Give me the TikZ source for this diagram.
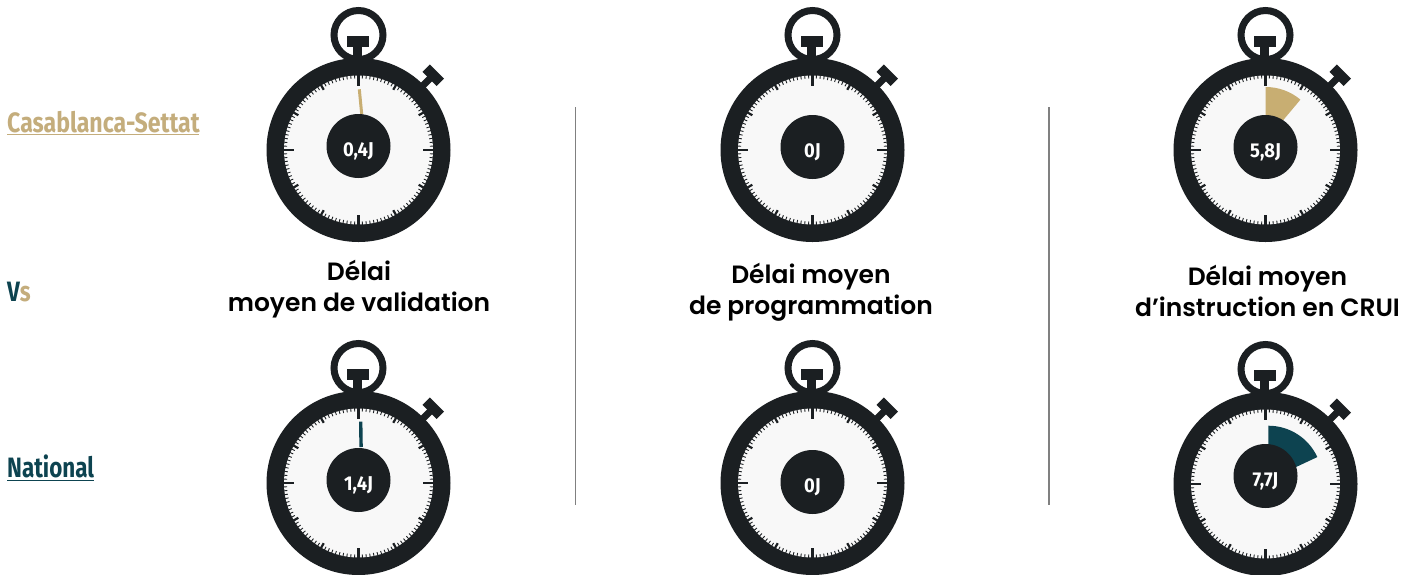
\documentclass[tikz,border=0pt]{standalone}
\usepackage{fontspec}
\setmainfont{Poppins}[UprightFont=* Medium,BoldFont=* SemiBold]
\newfontfamily\condfont[FakeStretch=0.80]{Fira Sans}
\newfontfamily\widecondfont[FakeStretch=0.825]{Fira Sans}
\newfontfamily\hubfont[FakeStretch=0.92]{Fira Sans}
\definecolor{ink}{HTML}{1B1F22}
\definecolor{face}{HTML}{F8F8F8}
\definecolor{sand}{HTML}{C8AE72}
\definecolor{sandtext}{HTML}{C4AD7C}
\definecolor{teal}{HTML}{0D4350}
\definecolor{rule}{HTML}{808080}
\tikzset{x=1pt,y=-1pt,
 hubtext/.style={text=white,font=\hubfont\bfseries\fontsize{20}{20}\selectfont,inner sep=0pt},
 title/.style={text=black,font=\bfseries\fontsize{25}{31}\selectfont,align=center,inner sep=0pt},
 side/.style={font=\condfont\bfseries\fontsize{28}{28}\selectfont,inner sep=0pt,anchor=base west},
 sep/.style={draw=rule,line width=1.2pt}}
\newcommand{\watch}[5]{%
 \begin{scope}[shift={(#1,#2)}]
  \fill[ink] (0,0) circle (92);
  \draw[ink,line width=7pt] (0,-115) circle (24.5);
  \fill[ink] (-5.5,-105) rectangle (3.5,-88);
  \fill[ink] (-11.5,-114) rectangle (10.5,-103);
  \begin{scope}[rotate=-45]
   \fill[ink] (-3.5,-102) rectangle (3.5,-88);
   \fill[ink] (-10,-111) rectangle (10,-100.5);
  \end{scope}
  \fill[face] (0,0) circle (74.5);
  \foreach \a in {0,3,...,357}{
   \draw[ink,line width=.9pt] (\a:75) -- (\a:71.5);}
  \foreach \a in {0,30,...,330}{
   \draw[ink,line width=2.2pt] (\a:75) -- (\a:69.5);}
  \foreach \a in {0,90,180,270}{
   \draw[ink,line width=2.6pt] (\a:75) -- (\a:64.5);}
  #5
  \node[circle,fill=ink,minimum size=64pt,inner sep=0pt] (hub) at (0,#3) {};
  \node[hubtext] at (0,#3+5) {#4};
 \end{scope}}
\begin{document}
\begin{tikzpicture}
\useasboundingbox (0,0) rectangle (1422,574);
\fill[white] (0,0) rectangle (1422,574);
\watch{358.5}{150}{-4}{0,4J}{\draw[sand,line width=3pt] (.8,-60.7) -- (3.2,-36);}
\watch{812.5}{150}{-3}{0J}{}
\watch{1265.5}{150}{-3}{5,8J}{\fill[sand] (0.2,-63) arc[start angle=-90,end angle=-50,radius=54] -- (0.2,-9) -- cycle;}
\watch{358.5}{483}{-3}{1,4J}{\draw[teal,line width=3.4pt] (2.2,-61.3) -- (2.6,-36);}
\watch{812.5}{483}{-1}{0J}{}
\watch{1265.5}{484}{-8}{7,7J}{\fill[teal] (2.8,-58.3) arc[start angle=-90,end angle=-24.8,radius=54] -- (2.8,-4) -- cycle;}
\node[title] (t1) at (359,289) {Délai\\moyen de validation};
\node[title] (t2) at (811,292.5) {Délai moyen\\de programmation};
\node[title] (t3) at (1267.5,291) {Délai moyen\\d’instruction en CRUI};
\draw[sep] (575.5,107) -- (575.5,505);
\draw[sep] (1049,107) -- (1049,505);
\node[side,text=sandtext,font=\widecondfont\bfseries\fontsize{28}{28}\selectfont] (a) at (7,132) {Casablanca-Settat};
\draw[sandtext,line width=1.2pt] (7,134.8) -- (199,134.8);
\node[side] (b) at (7,301) {\textcolor{teal}{V}\textcolor{sandtext}{s}};
\node[side,text=teal] (c) at (7,477) {National};
\draw[teal,line width=1.2pt] (7,480.5) -- (93.5,480.5);
\end{tikzpicture}
\end{document}
